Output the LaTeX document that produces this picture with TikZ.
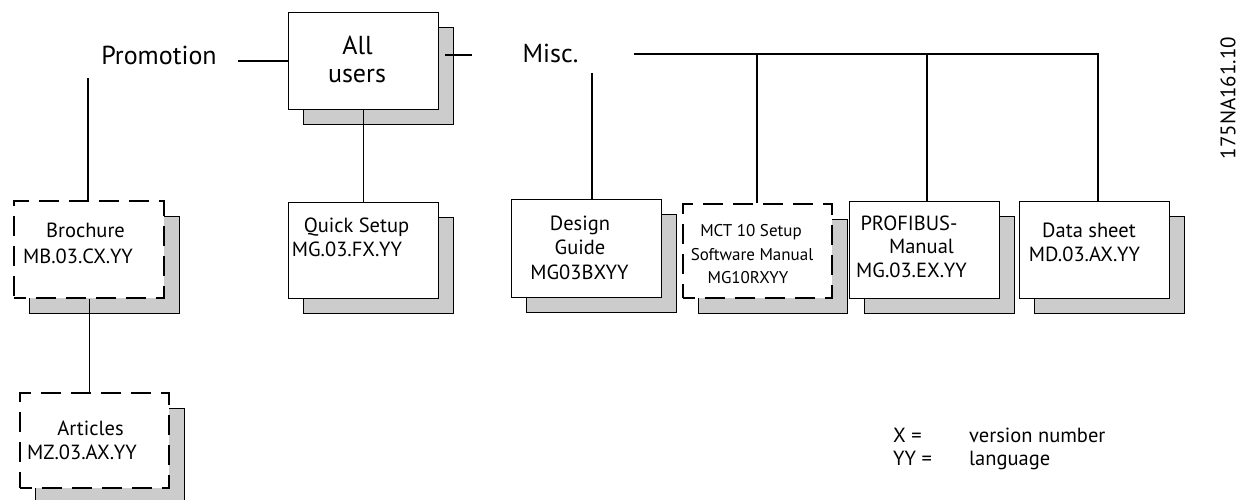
\documentclass[tikz,border=0pt]{standalone}
\usepackage{fontspec}
\setmainfont{PT Sans}
\usetikzlibrary{shadows}
\definecolor{shadowgray}{gray}{0.8}
\begin{document}
\begin{tikzpicture}[x=1pt,y=-1pt,
  doc/.style={draw=black, line width=1.4pt, fill=white, minimum width=150pt,
    minimum height=97pt, inner sep=0pt, anchor=north west,
    copy shadow={shadow xshift=15pt, shadow yshift=-15pt, fill=shadowgray,
      draw=black, line width=1.4pt, solid}},
  dashdoc/.style={doc, line width=2.4pt, dash pattern=on 20pt off 10pt, dash phase=8pt},
  conn/.style={line width=1.3pt},
  big/.style={font=\fontsize{26}{30}\selectfont, inner sep=0pt, anchor=base},
  txt/.style={font=\fontsize{20.5}{24}\selectfont, inner sep=0pt, anchor=base},
  small/.style={font=\fontsize{17}{20}\selectfont, inner sep=0pt, anchor=base},
  leg/.style={font=\fontsize{20.5}{24}\selectfont, inner sep=0pt, anchor=base west}]
\useasboundingbox[fill=white] (0,0) rectangle (1240,500);

% boxes
\node[doc] (allusers) at (288,12) {};
\node[dashdoc] (brochure) at (13,200) {};
\node[dashdoc, minimum width=149pt, minimum height=95pt] (articles) at (19,392) {};
\node[doc, minimum height=96pt] (quick) at (288,202) {};
\node[doc, minimum height=98pt] (design) at (511,199) {};
\node[dashdoc, minimum width=149pt, minimum height=94pt] (mct) at (682,203) {};
\node[doc] (profibus) at (849,201) {};
\node[doc] (datasheet) at (1019,201) {};

% top labels
\node[big] (promo) at (159,65) {Promotion};
\node[big] (all1) at (357.5,55) {All};
\node[big] (all2) at (357,83) {users};
\node[big] (misc) at (550.5,63) {Misc.};

% box texts
\node[txt] (br1) at (85.5,237) {Brochure};
\node[txt] (br2) at (78,263) {MB.03.CX.YY};
\node[txt] (ar1) at (90.5,435) {Articles};
\node[txt] (ar2) at (82,459) {MZ.03.AX.YY};
\node[txt] (qs1) at (356.5,233) {Quick Setup};
\node[txt] (qs2) at (347,256) {MG.03.FX.YY};
\node[txt] (dg1) at (580,230) {Design};
\node[txt] (dg2) at (580,254) {Guide};
\node[txt] (dg3) at (579.5,279) {MG03BXYY};
\node[small] (mc1) at (751,236) {MCT 10 Setup};
\node[small] (mc2) at (752,260) {Software Manual};
\node[small] (mc3) at (748,283) {MG10RXYY};
\node[txt] (pb1) at (909,230) {PROFIBUS-};
\node[txt] (pb2) at (921.5,253) {Manual};
\node[txt] (pb3) at (911.5,277) {MG.03.EX.YY};
\node[txt] (ds1) at (1089,237) {Data sheet};
\node[txt] (ds2) at (1084.5,261) {MD.03.AX.YY};

% legend
\node[leg] (lx) at (893,442) {X =};
\node[leg] (lxv) at (969,442) {version number};
\node[leg] (ly) at (893,465) {YY =};
\node[leg] (lyv) at (969,465) {language};

% drawing code
\node[font=\fontsize{21}{25}\selectfont, inner sep=0pt, rotate=90] (code) at (1228,98) {175NA161.10};

% connectors
\coordinate (promoL) at (238,61);
\draw[conn] (promoL) -- (promoL -| allusers.west);
\coordinate (promoV) at (88,78);
\draw[conn] (promoV) -- (promoV |- brochure.north);
\draw[conn] (brochure.south) -- (brochure.south |- articles.north);
\draw[conn] (allusers.south) -- (quick.north);
\coordinate (auR1) at (445,55);
\coordinate (auR2) at (472,55);
\draw[conn] (auR1) -- (auR2);
\coordinate (miscV) at (592,73);
\draw[conn] (miscV) -- (miscV |- design.north);
\coordinate (miscA) at (634,54);
\coordinate (miscB) at (1098,54);
\draw[conn] (miscA) -- (miscB) -- (miscB |- datasheet.north);
\coordinate (miscC) at (757,54);
\draw[conn] (miscC) -- (miscC |- mct.north);
\coordinate (miscD) at (927,54);
\draw[conn] (miscD) -- (miscD |- profibus.north);
\end{tikzpicture}
\end{document}
